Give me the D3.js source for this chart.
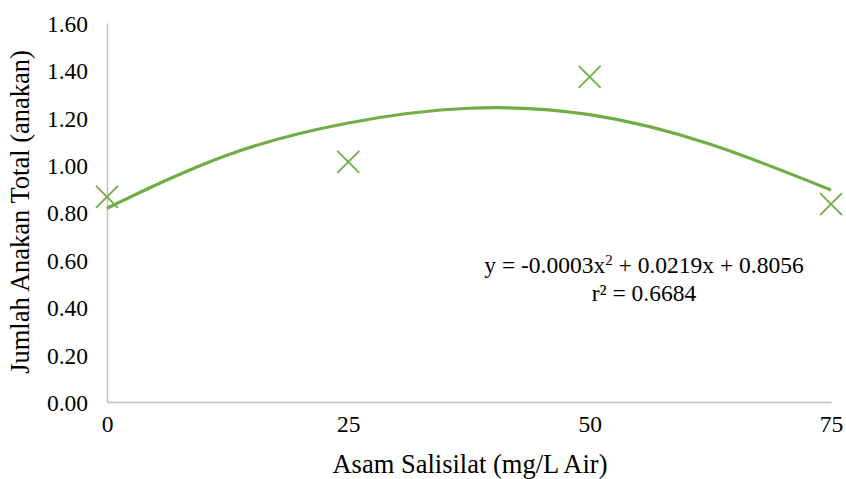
<!DOCTYPE html>
<html>
<head>
<meta charset="utf-8">
<script src="https://cdn.jsdelivr.net/npm/d3@7"></script>
<style>
  body { margin: 0; background: #fff; }
  svg text { font-family: "Liberation Serif", "Times New Roman", serif; fill: #000; }
</style>
</head>
<body>
<svg id="chart" width="846" height="479"></svg>
<script>
// data
var doses = [0, 25, 50, 75];
var anakan = [0.866, 1.014, 1.373, 0.835];
var trendX = [0, 12.5, 25, 37.5, 50, 62.5, 75];
var trendY = [0.818, 1.043, 1.178, 1.240, 1.213, 1.088, 0.895];
var yTicks = [0, 0.2, 0.4, 0.6, 0.8, 1.0, 1.2, 1.4, 1.6];
var equation = "y = -0.0003x";
var equationRest = " + 0.0219x + 0.8056";
var rSquared = "r² = 0.6684";

var green = "#70AD47";
var svg = d3.select("#chart");

var x = d3.scaleLinear().domain([0, 75]).range([107, 831]);
var y = d3.scaleLinear().domain([0, 1.6]).range([402, 23]);

// axes
var yAxis = svg.append("g")
  .attr("transform", "translate(" + x(0) + ",0)")
  .call(d3.axisLeft(y).tickValues(yTicks).tickSize(0).tickPadding(19).tickFormat(d3.format(".2f")));
var xAxis = svg.append("g")
  .attr("transform", "translate(0," + y(0) + ")")
  .call(d3.axisBottom(x).tickValues(doses).tickSize(0).tickPadding(13).tickFormat(d3.format("d")));
[yAxis, xAxis].forEach(function(a){
  a.attr("font-family", null).attr("font-size", null);
  a.select(".domain").attr("stroke", "#BFBFBF").attr("stroke-width", 1.5);
  a.selectAll("text").style("font-size", "23.5px");
});
yAxis.selectAll("text").attr("dy", "0.36em");

// trend line
var line = d3.line()
  .x(function(d){ return x(d[0]); })
  .y(function(d){ return y(d[1]); })
  .curve(d3.curveNatural);
svg.append("path")
  .datum(d3.zip(trendX, trendY))
  .attr("d", line)
  .attr("fill", "none")
  .attr("stroke", green)
  .attr("stroke-width", 3.2);

// x markers
var s = 11;
var marks = svg.append("g").selectAll("g")
  .data(d3.zip(doses, anakan))
  .enter().append("g")
  .attr("transform", function(d){ return "translate(" + x(d[0]) + "," + y(d[1]) + ")"; });
marks.append("path")
  .attr("d", "M" + (-s) + "," + (-s) + "L" + s + "," + s + "M" + (-s) + "," + s + "L" + s + "," + (-s))
  .attr("stroke", green)
  .attr("stroke-width", 1.8)
  .attr("fill", "none");

// equation
var eq = svg.append("text")
  .attr("x", 644).attr("y", 273)
  .attr("text-anchor", "middle")
  .style("font-size", "23.5px");
eq.append("tspan").text(equation);
eq.append("tspan").attr("dy", -8).style("font-size", "15px").text("2");
eq.append("tspan").attr("dy", 8).text(equationRest);
svg.append("text")
  .attr("x", 644).attr("y", 301)
  .attr("text-anchor", "middle")
  .style("font-size", "23.5px")
  .text(rSquared);

// axis titles
svg.append("text")
  .attr("x", 470).attr("y", 473)
  .attr("text-anchor", "middle")
  .style("font-size", "26.5px")
  .text("Asam Salisilat (mg/L Air)");
svg.append("text")
  .attr("transform", "translate(29,212) rotate(-90)")
  .attr("text-anchor", "middle")
  .style("font-size", "26.5px")
  .text("Jumlah Anakan Total (anakan)");
</script>
</body>
</html>
